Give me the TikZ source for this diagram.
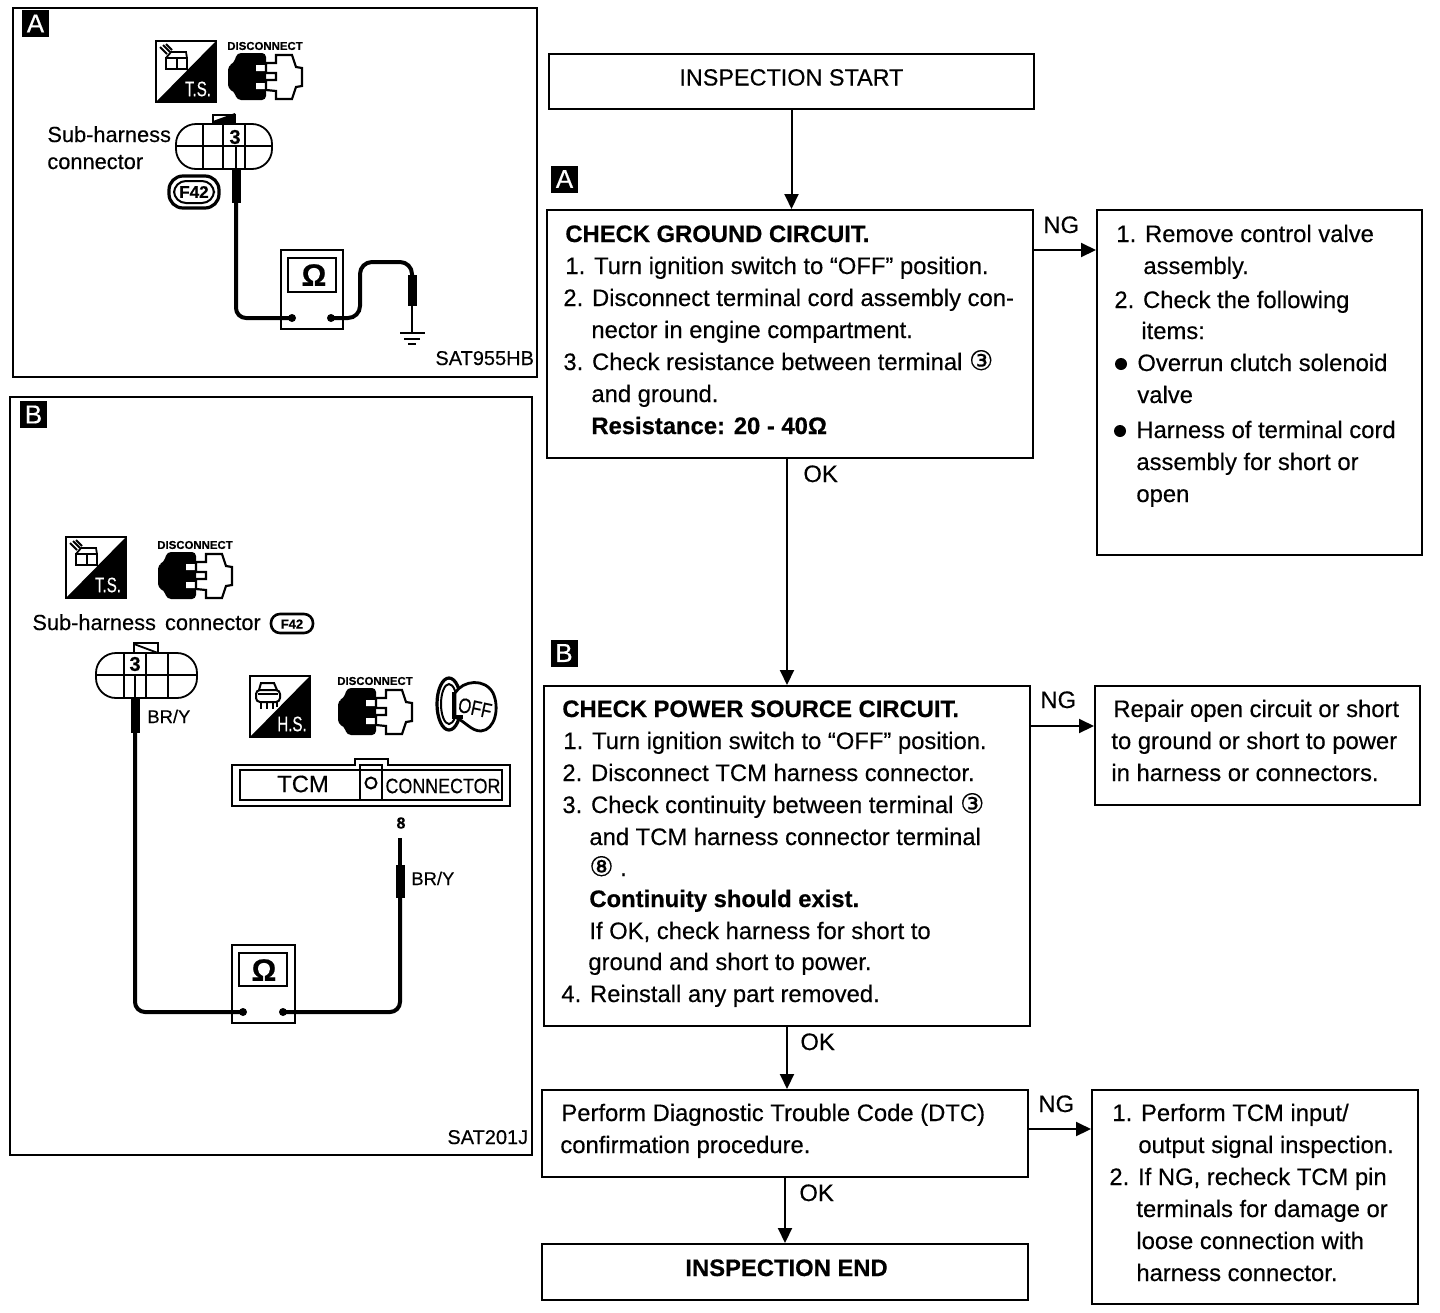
\documentclass[tikz,border=0pt]{standalone}
\usepackage{fontspec}
\usepackage{graphicx}
\setmainfont{Liberation Sans}[FakeBold=0.35,BoldFeatures={FakeBold=0.5}]
\newfontfamily\djv{DejaVu Sans}[FakeBold=0.3]
\usetikzlibrary{arrows.meta}
\newcounter{tn}
\newcommand\bodyf{\fontsize{11.9}{14}\selectfont}
\newcommand\tx[4][]{\stepcounter{tn}\node[anchor=base west,inner sep=0pt,font=\bodyf,#1] (t\arabic{tn}) at (#2,#3) {#4};}
\newcommand\bx[4][]{\stepcounter{tn}\node[anchor=base west,inner sep=0pt,font=\bodyf\bfseries,#1] (t\arabic{tn}) at (#2,#3) {#4};}
\newcommand\lab[4]{\stepcounter{tn}\node[inner sep=0pt,font=#4] (t\arabic{tn}) at (#1,#2) {#3};}
\newcommand\badge[3]{\stepcounter{tn}\node[fill=black,text=white,inner sep=0pt,minimum size=13.5pt,font=\fontsize{13}{13}\selectfont] (t\arabic{tn}) at (#1,#2) {#3};}
% T.S./H.S. icon: origin top-left, 60 x 61
\newcommand\iconbase[3]{\begin{scope}[shift={(#1,#2)}]
 \draw[line width=1pt,fill=white] (0,0) rectangle (60,61);
 \fill (60,0) -- (60,61) -- (0,61) -- cycle;
 \lab{42}{48}{\textcolor{white}{\scalebox{.72}[1]{#3}}}{\fontsize{10.5}{10.5}\selectfont}
\end{scope}}
\newcommand\tsglyph[2]{\begin{scope}[shift={(#1,#2)},line width=.9pt]
 \draw (10,17) rectangle (31,28); \draw (21,17) -- (21,28);
 \draw (10,17) -- (15,11) -- (30,11) -- (31,17);
 \draw (4,6) -- (11,13) (7,4) -- (14,11) (10,3) -- (16,9);
\end{scope}}
\newcommand\hsglyph[2]{\begin{scope}[shift={(#1,#2)},line width=1pt]
 \draw[rounded corners=2pt] (6,14) -- (6,26) -- (30,26) -- (30,14) -- cycle;
 \draw (9,14) -- (11,7) -- (24,7) -- (27,14);
 \draw (11,26) -- (11,33) (17,26) -- (17,33) (23,26) -- (23,33) (27,26) -- (27,31);
 \draw (8,18) -- (28,18);
\end{scope}}
% disconnect icon: origin top-left of the body
\newcommand\disc[2]{\begin{scope}[shift={(#1,#2)}]
 \lab{37}{-7}{DISCONNECT}{\fontsize{5.7}{6}\selectfont\bfseries}
 \fill[rounded corners=2pt] (9,0) -- (38,0) -- (38,47) -- (9,47) -- (6,38) -- (0,36) -- (0,13) -- (6,10) -- cycle;
 \fill[white] (28,12) rectangle (39,18) (28,30) rectangle (39,36);
 \draw[line width=1.1pt,fill=white] (38,10) -- (48,10) -- (48,2) -- (64,2) -- (68,14) -- (74,15) -- (74,33) -- (68,34) -- (64,46) -- (48,46) -- (48,38) -- (38,37) -- (38,27) -- (48,27) -- (48,20) -- (38,20) -- cycle;
\end{scope}}
\begin{document}
\begin{tikzpicture}[x=.5pt,y=-.5pt,
  fbox/.style={draw,line width=1pt,inner sep=0pt,fill=none},
  arr/.style={line width=1pt,-{Triangle[length=7.5pt,width=7pt]}},
  pan/.style={draw,line width=1pt},
  wire/.style={line width=2pt,rounded corners=5pt}]
\useasboundingbox (0,0) rectangle (1440,1312);
\fill[white] (0,0) rectangle (1440,1312);

%% ---------- flow boxes
\node[fbox,minimum width=242.5pt,minimum height=27.5pt] (start) at (791.5,81.5) {};
\node[fbox,minimum width=243pt,minimum height=124pt] (chkA) at (790,334) {};
\node[fbox,minimum width=162.5pt,minimum height=172.5pt] (fixA) at (1259.5,382.5) {};
\node[fbox,minimum width=243pt,minimum height=170pt] (chkB) at (787,856) {};
\node[fbox,minimum width=162.5pt,minimum height=59.5pt] (fixB) at (1257.5,745.5) {};
\node[fbox,minimum width=243pt,minimum height=43.5pt] (dtc) at (785,1133.5) {};
\node[fbox,minimum width=163pt,minimum height=107pt] (fixC) at (1255,1197) {};
\node[fbox,minimum width=243pt,minimum height=28pt] (end) at (785,1272) {};

\coordinate (ngA) at (chkA.east |- 0,250);
\coordinate (ngB) at (chkB.east |- 0,726);
\coordinate (ngC) at (dtc.east |- 0,1129);
\draw[arr] (start.south) -- (start.south |- chkA.north);
\draw[arr] (chkB.north |- chkA.south) -- (chkB.north);
\draw[arr] (chkB.south) -- (chkB.south |- dtc.north);
\draw[arr] (dtc.south) -- (dtc.south |- end.north);
\draw[arr] (ngA) -- (ngA -| fixA.west);
\draw[arr] (ngB) -- (ngB -| fixB.west);
\draw[arr] (ngC) -- (ngC -| fixC.west);

\tx[font=\fontsize{11.7}{14}\selectfont]{679}{85.5}{INSPECTION START}
\badge{564.5}{179}{A}
\badge{564}{653}{B}

\bx{565}{242}{CHECK GROUND CIRCUIT.}
\tx{565}{274}{1. Turn ignition switch to “OFF” position.}
\tx{563}{306}{2. Disconnect terminal cord assembly con-}
\tx{591}{338}{nector in engine compartment.}
\tx{563}{370}{3. Check resistance between terminal {\djv\fontsize{13.5}{14}\selectfont ③}}
\tx{591}{402}{and ground.}
\bx{591}{434}{Resistance: 20 - 40Ω}

\tx{1116}{242}{1. Remove control valve}
\tx{1143}{274}{assembly.}
\tx{1114}{308}{2. Check the following}
\tx{1141}{339}{items:}
\fill (1121,364) circle[radius=6];
\tx{1137}{371}{Overrun clutch solenoid}
\tx{1137}{403}{valve}
\fill (1120,431) circle[radius=6];
\tx{1136}{438}{Harness of terminal cord}
\tx{1136}{470}{assembly for short or}
\tx{1136}{502}{open}

\bx{562}{717}{CHECK POWER SOURCE CIRCUIT.}
\tx{563}{749}{1. Turn ignition switch to “OFF” position.}
\tx{562}{781}{2. Disconnect TCM harness connector.}
\tx{562}{813}{3. Check continuity between terminal {\djv\fontsize{13.5}{14}\selectfont ③}}
\tx{589}{845}{and TCM harness connector terminal}
\tx{589}{876}{{\djv\fontsize{13.5}{14}\selectfont ⑧} .}
\bx{589}{907}{Continuity should exist.}
\tx{589}{939}{If OK, check harness for short to}
\tx{588}{970}{ground and short to power.}
\tx{561}{1002}{4. Reinstall any part removed.}

\tx{1113}{717}{Repair open circuit or short}
\tx{1111}{749}{to ground or short to power}
\tx{1111}{781}{in harness or connectors.}

\tx{561}{1121}{Perform Diagnostic Trouble Code (DTC)}
\tx{560}{1153}{confirmation procedure.}

\tx{1112}{1121}{1. Perform TCM input/}
\tx{1138}{1153}{output signal inspection.}
\tx{1109}{1185}{2. If NG, recheck TCM pin}
\tx{1136}{1217}{terminals for damage or}
\tx{1136}{1249}{loose connection with}
\tx{1136}{1281}{harness connector.}

\bx{685}{1276}{INSPECTION END}

\tx{1043}{233}{NG}
\tx{803}{482}{OK}
\tx{1040}{708}{NG}
\tx{800}{1050}{OK}
\tx{1038}{1112}{NG}
\tx{799}{1201}{OK}

%% ---------- panel A
\draw[pan] (13,8) rectangle (537,377);
\badge{35.5}{23.5}{A}
\iconbase{156}{41}{T.S.}
\tsglyph{156}{41}
\disc{228}{53}
\tx[font=\fontsize{10.9}{13}\selectfont]{47}{142}{Sub-harness}
\tx[font=\fontsize{10.9}{13}\selectfont]{47}{169}{connector}
\draw[line width=.9pt,rounded corners=10pt] (176,124) rectangle (272,169);
\draw[line width=.9pt] (176,146) -- (272,146) (203,124) -- (203,169) (223,146) -- (223,169) (245,124) -- (245,169);
\draw[line width=.9pt] (213,124) -- (213,115) -- (235,115) -- (235,124);
\fill (213,124) -- (213,121) -- (235,113) -- (235,124) -- cycle;
\draw[line width=.9pt] (223,124) -- (223,146);
\lab{235}{137}{3}{\fontsize{10}{10}\selectfont\bfseries}
\draw[line width=1.2pt] (236,146) -- (236,170);
\fill (232,170) rectangle (240.5,203);
\draw[wire] (236,203) -- (236,318) -- (292,318);
\fill (292,318) circle[radius=4];
\draw[line width=1pt,fill=none] (281,250) rectangle (343,329);
\draw[line width=1pt] (288,258) rectangle (336,292);
\lab{314}{275}{Ω}{\fontsize{15.5}{16}\selectfont\bfseries}
\fill (331,318) circle[radius=4];
\draw[wire,rounded corners=6pt] (331,318) -- (360,318) -- (360,262) -- (412,262) -- (412,275);
\fill (407.5,275) rectangle (417,306);
\draw[line width=1.2pt] (412,306) -- (412,333);
\draw[line width=1.2pt] (400,333) -- (425,333);
\draw[line width=1.2pt] (404,339) -- (420,339);
\draw[line width=1.2pt] (408,344) -- (416,344);
\draw[line width=1.6pt,fill=none,rounded corners=7pt] (169,176) rectangle (219,208);
\draw[line width=1pt,fill=none,rounded corners=6pt] (174,181) rectangle (214,203);
\lab{194}{192}{F42}{\fontsize{8.5}{9}\selectfont\bfseries}
\tx[font=\fontsize{10}{12}\selectfont]{435}{365}{SAT955HB}

%% ---------- panel B
\draw[pan] (10,397) rectangle (532,1155);
\badge{33.5}{414.5}{B}
\iconbase{66}{537}{T.S.}
\tsglyph{66}{537}
\disc{158}{552}
\tx[font=\fontsize{10.9}{13}\selectfont]{32}{630}{Sub-harness\hspace{1.5pt} connector}
\draw[line width=1.3pt,rounded corners=4.5pt] (271,614) rectangle (313,633);
\lab{292}{624}{F42}{\fontsize{6.5}{7}\selectfont\bfseries}
\draw[line width=.9pt,rounded corners=10pt] (96,653) rectangle (197,698);
\draw[line width=.9pt] (96,675) -- (197,675) (124,653) -- (124,698) (146,653) -- (146,698) (168,653) -- (168,698);
\draw[line width=.9pt] (134,653) -- (134,643) -- (158,643) -- (158,653);
\draw[line width=.9pt] (134,644) -- (158,653);
\lab{135}{664}{3}{\fontsize{10}{10}\selectfont\bfseries}
\draw[line width=1.2pt] (135,675) -- (135,698);
\fill (130.5,698) rectangle (140,733);
\draw[wire] (135,733) -- (135,1012) -- (243,1012);
\fill (243,1012) circle[radius=4];
\draw[line width=1pt] (232,945) rectangle (295,1023);
\draw[line width=1pt] (239,953) rectangle (287,986);
\lab{264}{970}{Ω}{\fontsize{15.5}{16}\selectfont\bfseries}
\fill (283,1012) circle[radius=4];
\draw[wire] (283,1012) -- (400,1012) -- (400,898);
\fill (396,865) rectangle (405,898);
\draw[line width=1.6pt] (400,838) -- (400,865);
\lab{401}{823}{8}{\fontsize{8}{8}\selectfont\bfseries}
\tx[font=\fontsize{9.2}{10}\selectfont]{147}{723}{BR/Y}
\tx[font=\fontsize{9.2}{10}\selectfont]{411}{885}{BR/Y}
\iconbase{250}{676}{H.S.}
\hsglyph{250}{676}
\disc{338}{688}
% key OFF
\draw[line width=1.6pt] (449,704) ellipse [x radius=12,y radius=26];
\draw[line width=1pt] (449,704) ellipse [x radius=8,y radius=20];
\draw[line width=1.4pt,fill=white] (455,693) .. controls (463,680) and (485,678) .. (493,693) .. controls (500,708) and (495,730) .. (481,731) .. controls (471,731) and (466,722) .. (455,717) -- cycle;
\draw[line width=1.6pt] (454,692) -- (454,717) -- (463,717);
\lab{475}{708}{\rotatebox{-12}{\scalebox{.8}[1]{OFF}}}{\fontsize{10.5}{11}\selectfont}
% TCM connector
\draw[line width=1.4pt] (232,765) -- (355,765) -- (355,759) -- (388,759) -- (388,765) -- (510,765) -- (510,806) -- (232,806) -- cycle;
\draw[line width=1.4pt] (240,770) rectangle (502,800);
\draw[line width=1.2pt] (360,765) rectangle (382,800);
\draw[line width=1pt] (371,783) circle[radius=5.5];
\lab{303}{784}{TCM}{\bodyf}
\lab{443}{786}{\scalebox{.86}[1]{CONNECTOR}}{\fontsize{10.4}{11}\selectfont}
\tx[font=\fontsize{10}{12}\selectfont]{447}{1144}{SAT201J}
\end{tikzpicture}
\end{document}
